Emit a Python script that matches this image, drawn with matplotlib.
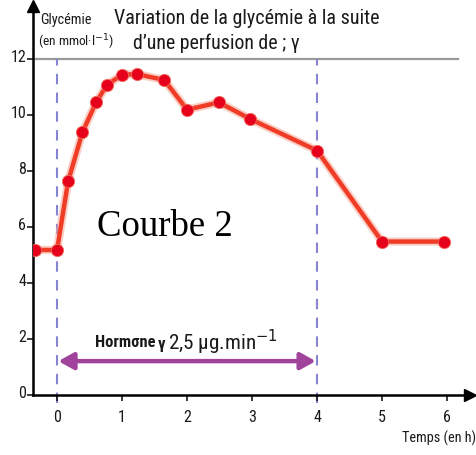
import matplotlib
matplotlib.use("Agg")
import matplotlib.pyplot as plt
import matplotlib.transforms as mtransforms
from matplotlib import font_manager as fm

# Data
time_h = [-0.34, 0.0, 0.17, 0.39, 0.60, 0.77, 1.00, 1.23, 1.65, 2.00, 2.49, 2.97, 4.00, 5.00, 5.95]
glycemie = [5.18, 5.18, 7.63, 9.38, 10.45, 11.08, 11.44, 11.46, 11.25, 10.19, 10.45, 9.86, 8.73, 5.48, 5.48]
x_ticks = [0, 1, 2, 3, 4, 5, 6]
y_ticks = [0, 2, 4, 6, 8, 10, 12]
perfusion_start = 0
perfusion_end = 4

# pick a narrow sans font if available
names = {f.name for f in fm.fontManager.ttflist}
narrow_family = None
for cand in ['Liberation Sans Narrow', 'Roboto Condensed', 'Open Sans Condensed',
             'DejaVu Sans Condensed', 'Noto Sans Condensed', 'Arial Narrow']:
    if cand in names:
        narrow_family = cand
        break
if narrow_family is None:
    narrow_family = 'Liberation Sans' if 'Liberation Sans' in names else 'DejaVu Sans'
SANS = [narrow_family, 'DejaVu Sans']
plt.rcParams['font.family'] = SANS

W, H = 477, 456
fig = plt.figure(figsize=(W / 100, H / 100), dpi=100)
ax = fig.add_axes([33 / W, 60 / H, 436.8 / W, 389.2 / H])
ax.set_xlim(-0.37, 6.35)
ax.set_ylim(0, 13.9)

for s in ['top', 'right']:
    ax.spines[s].set_visible(False)
for s in ['left', 'bottom']:
    ax.spines[s].set_linewidth(1.8)
    ax.spines[s].set_color('black')

ax.set_xticks(x_ticks)
ax.set_yticks(y_ticks)
ax.tick_params(axis='both', direction='out', length=4, width=1.2, labelsize=11.5, colors='#1a1a1a')
ax.tick_params(axis='x', pad=6)
ax.tick_params(axis='y', pad=1)
# nudge y tick labels slightly above their ticks, like the reference
offset = mtransforms.ScaledTranslation(0, 4 / 100, fig.dpi_scale_trans)
for lab in ax.get_yticklabels():
    lab.set_transform(lab.get_transform() + offset)

# axis arrows
ax.plot([1.0], [0], marker='>', color='black', markersize=8, transform=ax.transAxes, clip_on=False)
ax.plot([0], [1.0], marker='^', color='black', markersize=8, transform=ax.transAxes, clip_on=False)

# grey reference line at 12
ax.plot([-0.37, 6.17], [12, 12], color='#9a9a9a', lw=1.6, clip_on=False, zorder=1)

# dashed perfusion limits
for xv in [perfusion_start, perfusion_end]:
    ax.plot([xv, xv], [-0.3, 12], color='#8585d2', lw=1.5, ls=(0, (5, 4)), clip_on=False, zorder=1)

# curve
ax.plot(time_h, glycemie, color='#f7a898', lw=6, alpha=0.55, zorder=3, solid_capstyle='round')
ax.plot(time_h, glycemie, color='#f03c26', lw=3.2, zorder=4, solid_joinstyle='round')
ax.plot(time_h, glycemie, ls='none', marker='o', ms=8.8, color='#e6001c', mec='#f06a5a', mew=0.6, zorder=5)

# purple double arrow
ax.annotate('', xy=(perfusion_start + 0.02, 1.21), xytext=(perfusion_end - 0.02, 1.21),
            arrowprops=dict(arrowstyle='<|-|>,head_length=0.9,head_width=0.5', color='#a0439b', lw=3.2,
                            shrinkA=0, shrinkB=0))

renderer = fig.canvas.get_renderer()


def fit_width(t, target_px):
    bb = t.get_window_extent(renderer=renderer)
    if bb.width > 0:
        t.set_fontsize(t.get_fontsize() * target_px / bb.width)


def px_text(x, y, s, target_w, size, color='#1a1a1a', **kw):
    t = fig.text(x / W, 1 - y / H, s, fontsize=size, va='center', color=color, **kw)
    fit_width(t, target_w)
    return t


# hormone label
px_text(95, 343, 'Hormσne', 60, 10, ha='left', fontweight='bold')
px_text(158, 345, 'γ', 7.5, 10, ha='left', fontweight='bold')
px_text(168, 342, '2,5 µg.min$^{-1}$', 110, 13, ha='left')

# Courbe 2
px_text(97, 227, 'Courbe 2', 136, 26, ha='left', color='black',
        family=['Liberation Serif', 'DejaVu Serif'])

# titles and labels
px_text(114, 19, 'Variation de la glycémie à la suite', 266, 14, ha='left')
px_text(133, 43, 'd\u2019une perfusion de ; γ', 168, 14, ha='left')
px_text(40, 20, 'Glycémie', 52, 9, ha='left')
px_text(38, 42, '(en mmol·l$^{-1}$)', 76, 9, ha='left')
px_text(476, 438, 'Temps (en h)', 74, 9, ha='right')

fig.savefig('out.png', dpi=100)
